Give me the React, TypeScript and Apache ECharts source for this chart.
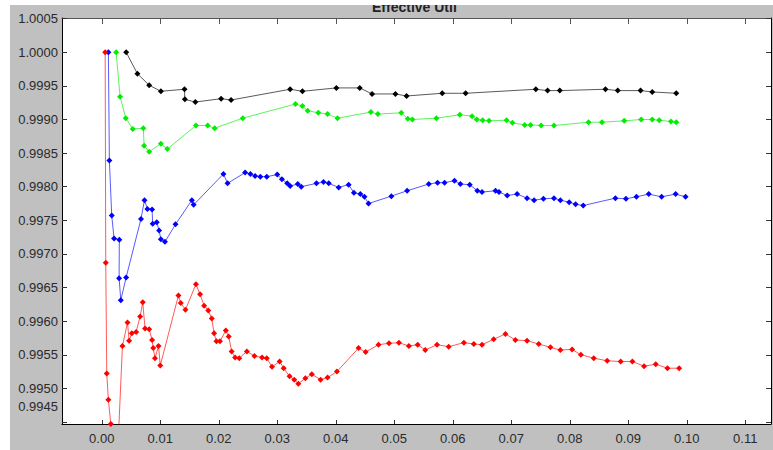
import React, { useEffect, useRef } from "react";
import * as echarts from "echarts";

const titleText = "Effective Util";
const xTicks = [0.0, 0.01, 0.02, 0.03, 0.04, 0.05, 0.06, 0.07, 0.08, 0.09, 0.1, 0.11];
const yTicks = [0.9945, 0.995, 0.9955, 0.996, 0.9965, 0.997, 0.9975, 0.998, 0.9985, 0.999, 0.9995, 1.0, 1.0005];

const blackX = [0.00417, 0.0061, 0.0081, 0.0101, 0.01414, 0.0142, 0.016, 0.0204, 0.0221, 0.0322, 0.0343, 0.0401, 0.0441, 0.0462, 0.0502, 0.0521, 0.0582, 0.0622, 0.0742, 0.0762, 0.0783, 0.0861, 0.0882, 0.0921, 0.0941, 0.0982];
const blackY = [1.0, 0.99968, 0.99951, 0.99942, 0.99945, 0.9993, 0.99926, 0.99931, 0.99929, 0.99945, 0.99942, 0.99947, 0.99947, 0.99938, 0.99938, 0.99935, 0.99939, 0.99939, 0.99945, 0.99943, 0.99943, 0.99945, 0.99943, 0.99943, 0.99941, 0.99939];

const greenX = [0.00245, 0.00313, 0.0041, 0.0053, 0.0071, 0.00724, 0.0081, 0.0101, 0.0112, 0.0161, 0.0181, 0.0193, 0.0241, 0.0331, 0.0343, 0.0352, 0.037, 0.0386, 0.0403, 0.046, 0.0472, 0.0512, 0.0523, 0.0531, 0.0572, 0.0612, 0.0633, 0.0641, 0.0651, 0.0662, 0.0692, 0.0702, 0.0723, 0.0733, 0.0751, 0.0773, 0.0832, 0.0855, 0.0893, 0.0922, 0.0941, 0.0953, 0.0973, 0.0982];
const greenY = [1.0, 0.99934, 0.99902, 0.99886, 0.99887, 0.99861, 0.99852, 0.99864, 0.99856, 0.99891, 0.99891, 0.99887, 0.99902, 0.99923, 0.9992, 0.99913, 0.9991, 0.99908, 0.99902, 0.99911, 0.99908, 0.9991, 0.99901, 0.999, 0.99902, 0.99907, 0.99905, 0.999, 0.99899, 0.99898, 0.99899, 0.99895, 0.99892, 0.99892, 0.99891, 0.99891, 0.99896, 0.99896, 0.99898, 0.999, 0.999, 0.99899, 0.99897, 0.99896];

const blueX = [0.00113, 0.0013, 0.0017, 0.0021, 0.003, 0.00296, 0.00325, 0.00416, 0.0067, 0.0073, 0.0078, 0.0086, 0.0087, 0.0094, 0.0098, 0.0101, 0.0108, 0.0126, 0.0154, 0.0157, 0.0208, 0.0215, 0.0245, 0.0254, 0.0262, 0.0271, 0.0282, 0.03, 0.0308, 0.0317, 0.0322, 0.0335, 0.0341, 0.0367, 0.0379, 0.0388, 0.0405, 0.0422, 0.0431, 0.0442, 0.0449, 0.0456, 0.0495, 0.0522, 0.0559, 0.0574, 0.0586, 0.0603, 0.0613, 0.0629, 0.0642, 0.065, 0.0673, 0.0679, 0.0693, 0.071, 0.0727, 0.0739, 0.0755, 0.0773, 0.0784, 0.0799, 0.081, 0.0823, 0.0878, 0.0896, 0.0914, 0.0935, 0.0957, 0.0981, 0.0998];
const blueY = [1.0, 0.99839, 0.99757, 0.99723, 0.99721, 0.99664, 0.99631, 0.99665, 0.99752, 0.9978, 0.99767, 0.99766, 0.99745, 0.99747, 0.99735, 0.99722, 0.99718, 0.99744, 0.9978, 0.99773, 0.99819, 0.99805, 0.99821, 0.99819, 0.99816, 0.99815, 0.99815, 0.99818, 0.99811, 0.99805, 0.99801, 0.99804, 0.998, 0.99805, 0.99807, 0.99805, 0.99799, 0.99803, 0.99791, 0.99789, 0.99785, 0.99775, 0.99786, 0.99794, 0.99804, 0.99806, 0.99806, 0.99809, 0.99804, 0.99803, 0.99794, 0.99792, 0.99794, 0.99792, 0.99787, 0.99789, 0.99783, 0.9978, 0.99782, 0.99783, 0.9978, 0.99777, 0.99774, 0.99772, 0.99783, 0.99782, 0.99785, 0.99789, 0.99785, 0.99789, 0.99785];

const redX = [0.00058, 0.00068, 0.00085, 0.00113, 0.00154, 0.002, 0.0028, 0.00353, 0.0044, 0.00467, 0.00513, 0.00587, 0.00655, 0.007, 0.0074, 0.0081, 0.0086, 0.0088, 0.0091, 0.0097, 0.01, 0.0131, 0.0135, 0.0143, 0.0161, 0.0168, 0.0175, 0.0182, 0.0188, 0.0192, 0.0196, 0.0202, 0.0212, 0.0217, 0.0222, 0.0228, 0.0235, 0.0248, 0.0261, 0.0274, 0.0282, 0.0291, 0.0304, 0.0311, 0.0321, 0.0329, 0.0336, 0.0348, 0.0359, 0.0374, 0.0386, 0.0402, 0.0439, 0.0451, 0.0473, 0.0491, 0.0508, 0.0525, 0.054, 0.0553, 0.0573, 0.0593, 0.0619, 0.0636, 0.065, 0.067, 0.069, 0.0707, 0.0727, 0.0747, 0.0767, 0.0784, 0.0804, 0.0819, 0.0841, 0.0864, 0.0887, 0.0907, 0.0927, 0.0947, 0.0967, 0.0987];
const redY = [1.0, 0.99687, 0.99522, 0.99483, 0.99447, 0.9942, 0.9942, 0.99563, 0.99598, 0.99571, 0.99582, 0.99584, 0.99607, 0.99628, 0.99589, 0.99588, 0.99572, 0.9956, 0.99545, 0.99563, 0.99534, 0.99638, 0.99627, 0.99617, 0.99655, 0.9964, 0.99623, 0.99616, 0.99604, 0.99582, 0.9957, 0.9957, 0.99586, 0.99577, 0.99555, 0.99546, 0.99545, 0.99555, 0.99548, 0.99546, 0.99545, 0.99532, 0.9954, 0.9953, 0.99518, 0.99513, 0.99507, 0.99515, 0.99521, 0.99513, 0.99516, 0.99525, 0.9956, 0.99554, 0.99565, 0.99567, 0.99568, 0.99563, 0.99565, 0.99557, 0.99565, 0.99562, 0.99568, 0.99566, 0.99565, 0.99573, 0.99581, 0.99572, 0.99571, 0.99566, 0.99561, 0.99557, 0.99558, 0.9955, 0.99545, 0.99541, 0.9954, 0.9954, 0.99533, 0.99536, 0.9953, 0.9953];

const zip = (xs: number[], ys: number[]) => xs.map((x, i) => [x, ys[i]]);

const X_MIN = -0.0068;
const X_MAX = 0.1144;
const Y_MIN = 0.99447;
const Y_MAX = 1.00051;

export default function App() {
  const ref = useRef<HTMLDivElement>(null);
  useEffect(() => {
    document.body.style.margin = "0";
    const chart = echarts.init(ref.current!, null, { renderer: "svg" });
    const labelFont = { fontFamily: "Liberation Sans, Arial, sans-serif", fontSize: 13, color: "#2a2a2a" };
    const mkSeries = (name: string, color: string, xs: number[], ys: number[]) => ({
      name,
      type: "line",
      data: zip(xs, ys),
      symbol: "diamond",
      symbolSize: 6,
      itemStyle: { color },
      lineStyle: { color, width: 1, opacity: 0.65 },
      clip: true,
    });
    chart.setOption({
      animation: false,
      backgroundColor: "#c0c0c0",
      grid: { left: 62, top: 18, right: 2, bottom: 26, show: true, backgroundColor: "#ffffff", borderWidth: 0 },
      xAxis: [
        {
          type: "value", min: X_MIN, max: X_MAX, position: "bottom",
          axisLine: { show: true, onZero: false, lineStyle: { color: "#000", width: 1 } },
          axisTick: { show: true, inside: true, length: 4, customValues: xTicks, lineStyle: { color: "#333" } },
          axisLabel: { ...labelFont, margin: 8, customValues: xTicks, formatter: (v: number) => v.toFixed(2) },
          splitLine: { show: false },
        },
        {
          type: "value", min: X_MIN, max: X_MAX, position: "top",
          axisLine: { show: true, onZero: false, lineStyle: { color: "#555", width: 1 } },
          axisTick: { show: true, inside: true, length: 6, customValues: xTicks, lineStyle: { color: "#555" } },
          axisLabel: { show: false },
          splitLine: { show: false },
        },
      ],
      yAxis: [
        {
          type: "value", min: Y_MIN, max: Y_MAX, position: "left",
          axisLine: { show: true, onZero: false, lineStyle: { color: "#000", width: 1 } },
          axisTick: { show: true, inside: true, length: 5, customValues: yTicks, lineStyle: { color: "#333" } },
          axisLabel: {
            ...labelFont, margin: 4, customValues: yTicks,
            formatter: (v: number) => (v < 0.99455 ? `{low|${v.toFixed(4)}}` : v.toFixed(4)),
            rich: { low: { ...labelFont, padding: [0, 0, 30, 0] } },
          },
          splitLine: { show: false },
        },
        {
          type: "value", min: Y_MIN, max: Y_MAX, position: "right",
          axisLine: { show: true, onZero: false, lineStyle: { color: "#000", width: 1 } },
          axisTick: { show: true, inside: true, length: 5, customValues: yTicks, lineStyle: { color: "#333" } },
          axisLabel: { show: false },
          splitLine: { show: false },
        },
      ],
      graphic: [
        {
          type: "text", left: 417 - 45, top: 0,
          style: { text: titleText, font: "bold 14px Liberation Sans, Arial, sans-serif", fill: "#222" },
          z: 10,
        },
        { type: "rect", shape: { x: 0, y: 0, width: 773, height: 5 }, style: { fill: "#ffffff" }, z: 11 },
        { type: "rect", shape: { x: 0, y: 0, width: 10, height: 450 }, style: { fill: "#ffffff" }, z: 11 },
      ],
      series: [
        mkSeries("black", "#000000", blackX, blackY),
        mkSeries("green", "#00ee00", greenX, greenY),
        mkSeries("blue", "#0000ff", blueX, blueY),
        mkSeries("red", "#ff0000", redX, redY),
      ],
    });
    return () => chart.dispose();
  }, []);
  return <div ref={ref} style={{ width: 773, height: 450, position: "absolute", left: 0, top: 0 }} />;
}
